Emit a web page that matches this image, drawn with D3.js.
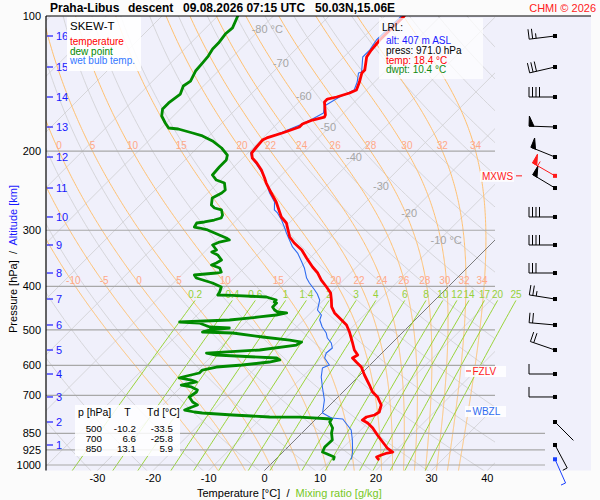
<!DOCTYPE html>
<html>
<head>
<meta charset="utf-8">
<script src="https://cdn.jsdelivr.net/npm/d3@7"></script>
<style>
  body { margin: 0; background: #fbfbfb; }
  svg { font-family: "Liberation Sans", Arial, sans-serif; }
  text { white-space: pre; }
</style>
</head>
<body>
<svg id="chart" width="600" height="500"></svg>
<script>
// ---- sounding data ----
const tempP = [100,113.1,119.1,123.4,131.9,133.9,140.3,146.2,148.4,151.5,153.1,155.4,166.1,167.9,170.5,174.0,176.7,182.2,186.9,188.9,195.8,201.9,207.1,212.5,220.3,229.5,235.5,247.9,259.6,280.3,289.1,310.6,320.3,332.0,345.9,362.3,373.6,387.3,401.4,413.9,429.1,444.7,458.6,470.6,487.7,505.6,532.2,554.5,568.9,577.7,589.7,605.0,630.3,663.5,687.7,705.5,735.1,762.0,773.8,781.8,794.0,806.3,827.2,857.5,888.8,916.6,935.6,940.4,950.1,959.9,971.0];
const tempT = [-56.5,-56.6,-56.3,-55.9,-53.9,-53.9,-52.7,-51.8,-52.5,-54.1,-55.4,-55.4,-52.9,-52.7,-54.3,-55.4,-55.4,-57.4,-59.3,-59.7,-59.5,-59.3,-58.3,-56.6,-54.5,-52.5,-51.3,-48.6,-46.1,-42.5,-40.5,-37.4,-35.5,-32.9,-30.6,-27.9,-25.9,-24.0,-21.8,-20.0,-18.6,-17.3,-15.7,-13.9,-11.4,-9.6,-7.3,-5.5,-4.0,-4.4,-3.0,-1.2,0.8,3.5,5.3,7.1,9.2,10.1,9.8,8.7,8.5,10.0,11.8,13.9,16.1,18.0,19.7,18.9,18.2,17.7,18.4];

const dewP = [100,106.3,109.7,114.9,118.4,122.8,127.3,132.6,139.6,143.2,149.2,153.1,156.2,161.1,167.0,173.1,177.6,178.5,182.2,185.0,189.8,196.8,204.0,209.3,216.9,226.0,231.9,235.5,244.1,247.9,254.3,263.6,267.7,270.4,277.5,281.8,284.7,287.6,289.1,295.1,296.6,299.6,304.3,312.2,315.4,318.7,323.6,332.0,335.4,340.6,349.5,354.9,358.6,364.1,371.7,373.6,377.4,383.3,393.2,401.4,411.8,418.2,419.0,422.5,429.1,433.5,435.7,444.7,451.7,456.3,458.6,463.4,468.1,475.4,480.3,482.8,492.8,495.3,500.4,505.6,508.2,518.7,526.8,532.2,540.5,554.5,563.2,568.9,577.7,583.6,589.7,598.8,605.0,614.4,623.9,636.8,640.0,646.7,653.3,663.5,670.3,680.7,687.7,705.5,723.9,735.1,746.6,754.3,762.0,765.9,773.8,781.8,782.5,789.9,802.1,827.2,848.7,879.7,911.9,935.6,950.1,959.9,971.0];
const dewT = [-86.4,-85.2,-85.4,-85.0,-85.0,-84.5,-84.3,-84.1,-83.2,-83.6,-82.7,-83.0,-83.2,-83.2,-82.1,-80.2,-78.7,-76.8,-73.5,-71.2,-68.5,-65.6,-63.3,-62.6,-62.6,-62.4,-60.8,-58.8,-57.4,-57.5,-58.3,-57.2,-56.1,-54.5,-53.4,-53.1,-54.0,-55.4,-56.6,-56.3,-55.2,-53.4,-51.6,-48.6,-47.7,-49.1,-49.8,-48.2,-48.7,-47.1,-45.5,-45.9,-46.4,-44.4,-43.4,-44.1,-47.7,-46.8,-43.0,-40.7,-40.1,-39.9,-37.3,-30.8,-28.5,-28.5,-27.9,-27.9,-27.0,-26.1,-24.3,-25.8,-28.5,-33.3,-41.9,-38.2,-35.6,-31.9,-35.1,-36.0,-30.4,-24.3,-18.9,-16.4,-16.8,-22.5,-31.5,-29.4,-18.0,-17.1,-18.6,-22.9,-27.2,-29.2,-29.2,-31.5,-31.9,-29.4,-28.1,-30.3,-28.1,-26.5,-26.3,-26.7,-25.2,-23.8,-24.7,-25.2,-23.1,-21.5,-15.7,-8.7,-3.3,2.8,3.0,4.6,5.3,6.7,6.6,7.1,8.9,10.1,10.4];

const wbP = [100,113.1,119.1,123.4,133.3,133.9,140.3,146.2,151.5,158.6,164.4,169.6,174.9,181.3,187.9,195.8,201.9,207.1,212.5,220.3,228.3,247.9,259.6,270.4,274.6,284.7,296.6,304.3,315.4,326.9,337.2,351.3,364.1,383.3,393.2,407.6,416.1,429.1,451.7,463.4,475.4,492.8,508.2,521.4,534.9,548.9,563.2,577.7,589.7,598.8,608.1,636.8,670.3,716.6,765.9,785.8,789.9,814.5,835.8,879.7,935.6,964.9,971.0];
const wbT = [-57.0,-57.2,-56.6,-56.6,-54.1,-54.5,-53.1,-52.2,-53.6,-54.7,-53.6,-54.5,-55.7,-57.5,-59.5,-59.7,-59.5,-58.4,-56.8,-54.7,-52.7,-48.9,-46.4,-45.0,-43.9,-41.9,-39.9,-38.7,-36.9,-35.1,-33.1,-31.0,-29.2,-27.0,-25.6,-23.4,-22.2,-20.7,-19.3,-17.7,-17.1,-15.4,-13.6,-12.5,-10.9,-9.8,-10.0,-9.4,-8.2,-7.3,-8.0,-6.6,-4.6,-1.9,0.1,2.6,4.8,6.7,8.3,10.3,12.5,13.4,13.5];

// altitude ticks (km) and the pressure they sit at; winds at the same levels
const kmLevels = [1,2,3,4,5,6,7,8,9,10,11,12,13,14,15,16];
const kmP = [902.5,802.1,705.5,627.1,554.5,487.7,426.9,373.6,323.6,280.3,241.6,206.1,176.7,151.5,129.9,110.8];
const windDir = [152,135,270,270,289,275,279,270,270,270,301,292,272,270,257,263];
const windSpd = [5,3,10,10,20,20,25,30,40,40,50,50,50,40,30,25];
const maxWindP = 227, maxWindDir = 300, maxWindSpd = 55;
const sfcP = 971.0, sfcDir = 156, sfcSpd = 5;

// special levels
const levelNames = ['MXWS','FZLV','WBZL'];
const levelP = [227, 617.5, 758.2];

// table
const tableP = [500,700,850];
const tableT = [-10.2,6.6,13.1];
const tableTd = [-33.5,-25.8,5.9];

// LRL box
const lrlLines = ['alt: 407 m ASL','press: 971.0 hPa','temp: 18.4 °C','dwpt: 10.4 °C'];

// axes / background lines
const pressTicks = [100,200,300,400,500,600,700,850,925,1000];
const tempTicks = [-30,-20,-10,0,10,20,30,40];
const isoLabelT = [-80,-70,-60,-50,-40,-30,-20,-10];
const thetaW = [-10,-5,0,5,10,15,20,22,24,26,28,30,32,34];
const thetaWTop = [0,5,10,15,20,22,24,26,28,30,32,34];
const mixW = [0.2,0.4,0.6,1,1.4,2,3,4,6,8,10,12,14,17,20,25];

// ---- layout ----
const plot = {left: 46, right: 495, top: 16, bottom: 470.5, panelRight: 591};
const y = d3.scaleLog().domain([100, 1000]).range([16, 465]);
const x = d3.scaleLinear().domain([-30, 40]).range([97.4, 487.3]);
const sx = (T, p) => x(T) + (plot.bottom - y(p));
const pBot = y.invert(plot.bottom) + 5;

const svg = d3.select('#chart');

// ---- thermodynamics for reference lines ----
const Rd = 287.04, Cp = 1005.7, Lv = 2.501e6, eps = 0.622;
const esat = (T) => 6.112 * Math.exp(17.67 * T / (T + 243.5));
const dewFromE = (e) => { const l = Math.log(e / 6.112); return 243.5 * l / (17.67 - l); };
const dTdp = (T, p) => {
  const Tk = T + 273.15, e = esat(T), rs = eps * e / (p - e);
  return (Rd * Tk + Lv * rs) / (p * (Cp + Lv * Lv * rs * eps / (Rd * Tk * Tk)));
};
const rk = (T, p, h) => {
  const k1 = dTdp(T, p), k2 = dTdp(T + h / 2 * k1, p + h / 2);
  const k3 = dTdp(T + h / 2 * k2, p + h / 2), k4 = dTdp(T + h * k3, p + h);
  return T + h / 6 * (k1 + 2 * k2 + 2 * k3 + k4);
};
const moistAdiabat = (tw) => {
  const up = [[1000, tw]];
  let T = tw, p = 1000;
  while (p > 100) { T = rk(T, p, -2); p -= 2; up.push([p, T]); }
  const down = [];
  T = tw; p = 1000;
  while (p < pBot) { T = rk(T, p, 2); p += 2; down.push([p, T]); }
  return down.reverse().concat(up);
};

const pGrid = d3.range(0, 121).map((i) => 100 * Math.pow(pBot / 100, i / 120));
const line = d3.line().x((d) => sx(d[1], d[0])).y((d) => y(d[0]));

// ---- background ----
svg.append('rect').attr('x', plot.left).attr('y', plot.top)
  .attr('width', plot.panelRight - plot.left).attr('height', plot.bottom - plot.top)
  .attr('fill', '#f0f0fb');

const defs = svg.append('defs');
defs.append('clipPath').attr('id', 'clipPlot').append('rect')
  .attr('x', plot.left).attr('y', plot.top).attr('width', plot.right - plot.left).attr('height', plot.bottom - plot.top);
defs.append('clipPath').attr('id', 'clipMix').append('rect')
  .attr('x', plot.left).attr('y', plot.top).attr('width', 480).attr('height', plot.bottom - plot.top);

const grid = svg.append('g').attr('clip-path', 'url(#clipPlot)');

// isotherms
grid.selectAll('.iso').data(d3.range(-130, 50, 10)).enter().append('path')
  .attr('d', (t) => line([[pBot, t], [100, t]]))
  .attr('fill', 'none').attr('stroke', '#d2d2d6').attr('stroke-width', 0.9);

// dry adiabats
grid.selectAll('.dry').data(d3.range(230, 480, 10)).enter().append('path')
  .attr('d', (th) => line(pGrid.map((p) => [p, th * Math.pow(p / 1000, 0.2857) - 273.15])))
  .attr('fill', 'none').attr('stroke', '#d2d2d6').attr('stroke-width', 0.9);

// pseudo adiabats
const moistCurves = thetaW.map((tw) => ({tw, pts: moistAdiabat(tw)}));
grid.selectAll('.moist').data(moistCurves).enter().append('path')
  .attr('d', (c) => line(c.pts))
  .attr('fill', 'none').attr('stroke', '#ffc070').attr('stroke-width', 1);

// mixing ratio lines
const mixTop = 430;
const mixPts = (w) => d3.range(mixTop, pBot, 10).concat([pBot]).map((p) => [p, dewFromE(w * p / (622 + w))]);
svg.append('g').attr('clip-path', 'url(#clipMix)')
  .selectAll('path').data(mixW).enter().append('path')
  .attr('d', (w) => line(mixPts(w)))
  .attr('fill', 'none').attr('stroke', '#8fd024').attr('stroke-width', 0.9);

// isobars
svg.append('g').selectAll('line').data(pressTicks.slice(1)).enter().append('line')
  .attr('x1', plot.left).attr('x2', (p) => (p >= 850 ? 545 : plot.right))
  .attr('y1', (p) => y(p)).attr('y2', (p) => y(p))
  .attr('stroke', '#a8a8a8').attr('stroke-width', 1.2);

// 0 °C isotherm
grid.append('path').attr('d', line([[pBot, 0], [100, 0]]))
  .attr('fill', 'none').attr('stroke', '#666').attr('stroke-width', 0.8);

// ---- reference line labels ----
const moistAt = (c, p) => { const d = c.pts.reduce((a, b) => (Math.abs(b[0] - p) < Math.abs(a[0] - p) ? b : a)); return sx(d[1], d[0]); };
const mLabels = svg.append('g').attr('font-size', 10).attr('fill', '#ffa888').attr('text-anchor', 'middle');
moistCurves.filter((c) => thetaWTop.includes(c.tw)).forEach((c) => {
  mLabels.append('text').attr('x', moistAt(c, 200)).attr('y', y(200) - 2).text(c.tw);
});
moistCurves.forEach((c) => {
  mLabels.append('text').attr('x', moistAt(c, 400) - 2).attr('y', y(400) - 2.5).text(c.tw);
});

svg.append('g').attr('font-size', 10).attr('fill', '#96d03a').attr('text-anchor', 'middle')
  .selectAll('text').data(mixW).enter().append('text')
  .attr('x', (w) => sx(dewFromE(w * mixTop / (622 + w)), mixTop))
  .attr('y', y(mixTop) - 2)
  .text((w) => w);

// isotherm labels sit on the 366 K dry adiabat
const isoP = (t) => 1000 * Math.pow((t + 273.15) / 366, 1 / 0.2857);
svg.append('g').attr('font-size', 11).attr('fill', '#a6a6a6')
  .selectAll('text').data(isoLabelT).enter().append('text')
  .attr('x', (t) => sx(t, isoP(t)) - 9).attr('y', (t) => y(isoP(t)) + 4)
  .text((t, i) => (i === 0 || i === isoLabelT.length - 1 ? `${t} °C` : `${t}`));

// ---- profiles ----
const zip = (P, T) => P.map((p, i) => [p, T[i]]);
const prof = svg.append('g').attr('clip-path', 'url(#clipPlot)').attr('fill', 'none')
  .attr('stroke-linejoin', 'round').attr('stroke-linecap', 'round');
prof.append('path').attr('d', line(zip(dewP, dewT))).attr('stroke', '#008a00').attr('stroke-width', 2.8);
prof.append('path').attr('d', line(zip(wbP, wbT))).attr('stroke', '#2f6cf0').attr('stroke-width', 1.1);
prof.append('path').attr('d', line(zip(tempP, tempT))).attr('stroke', '#ff0000').attr('stroke-width', 2.8);

// ---- frame and axes ----
svg.append('line').attr('x1', plot.left).attr('x2', plot.panelRight).attr('y1', plot.top).attr('y2', plot.top)
  .attr('stroke', '#000').attr('stroke-width', 1.2);
svg.append('line').attr('x1', plot.left).attr('x2', plot.left).attr('y1', plot.top).attr('y2', plot.bottom)
  .attr('stroke', '#000').attr('stroke-width', 1.2);

svg.append('g').attr('font-size', 11).attr('text-anchor', 'end')
  .selectAll('text').data(pressTicks).enter().append('text')
  .attr('x', 41).attr('y', (p) => y(p) + 4).text((p) => p);

const km = svg.append('g').attr('fill', '#1a1aff').attr('font-size', 11);
km.selectAll('line').data(kmP).enter().append('line')
  .attr('x1', 47).attr('x2', 53).attr('y1', (p) => y(p)).attr('y2', (p) => y(p))
  .attr('stroke', '#1a1aff').attr('stroke-width', 1.2);
km.selectAll('text').data(kmLevels).enter().append('text')
  .attr('x', 56).attr('y', (k, i) => y(kmP[i]) + 4).text((k) => k);

svg.append('g').attr('font-size', 11).attr('text-anchor', 'middle')
  .selectAll('text').data(tempTicks).enter().append('text')
  .attr('x', (t) => x(t)).attr('y', 482).text((t) => t);

const xt = svg.append('text').attr('x', 197).attr('y', 497).attr('font-size', 11);
xt.append('tspan').text('Temperature [°C]  /  ');
xt.append('tspan').attr('fill', '#77c81e').text('Mixing ratio [g/kg]');

const yt = svg.append('text').attr('transform', 'translate(17,259) rotate(-90)')
  .attr('text-anchor', 'middle').attr('font-size', 11);
yt.append('tspan').text('Pressure [hPa]  /  ');
yt.append('tspan').attr('fill', '#1a1aff').text('Altitude [km]');

// ---- title ----
const title = svg.append('text').attr('y', 12).attr('font-size', 12).attr('font-weight', 'bold');
title.append('tspan').attr('x', 50).text('Praha-Libus');
title.append('tspan').attr('x', 128).text('descent');
title.append('tspan').attr('x', 183).text('09.08.2026 07:15 UTC');
title.append('tspan').attr('x', 315).text('50.03N,15.06E');
svg.append('text').attr('x', 596).attr('y', 12).attr('text-anchor', 'end')
  .attr('font-size', 11).attr('fill', '#ff2020').text('CHMI © 2026');

// ---- legend ----
svg.append('rect').attr('x', 67).attr('y', 17).attr('width', 74).attr('height', 54).attr('fill', '#fff').attr('opacity', 0.9);
svg.append('text').attr('x', 70).attr('y', 30).attr('font-size', 11.5).text('SKEW-T');
[['temperature', '#ff0000'], ['dew point', '#008a00'], ['wet bulb temp.', '#3377ff']].forEach((d, i) => {
  svg.append('text').attr('x', 70).attr('y', 45 + i * 9.7).attr('font-size', 10).attr('fill', d[1]).text(d[0]);
});

// ---- LRL box ----
svg.append('rect').attr('x', 379).attr('y', 18).attr('width', 104).attr('height', 61).attr('fill', '#fff').attr('opacity', 0.72);
svg.append('text').attr('x', 382).attr('y', 31).attr('font-size', 10).text('LRL:');
const lrlColors = ['#1a1aff', '#000', '#ff0000', '#108a10'];
lrlLines.forEach((s, i) => {
  svg.append('text').attr('x', 386).attr('y', 44 + i * 9.8).attr('font-size', 10).attr('fill', lrlColors[i]).text(s);
});

// ---- table ----
svg.append('rect').attr('x', 75).attr('y', 405).attr('width', 105).attr('height', 51).attr('fill', '#fff').attr('opacity', 0.85);
const tb = svg.append('g').attr('font-size', 10.5);
tb.append('text').attr('x', 78).attr('y', 416).text('p [hPa]');
tb.append('text').attr('x', 127.5).attr('y', 416).attr('text-anchor', 'middle').text('T');
tb.append('text').attr('x', 147).attr('y', 416).text('Td [°C]');
tableP.forEach((p, i) => {
  const yy = 431.5 + i * 10;
  const row = tb.append('g').attr('font-size', 9.8);
  row.append('text').attr('x', 102).attr('y', yy).attr('text-anchor', 'end').text(p);
  row.append('text').attr('x', 136).attr('y', yy).attr('text-anchor', 'end').text(tableT[i].toFixed(1));
  row.append('text').attr('x', 173).attr('y', yy).attr('text-anchor', 'end').text(tableTd[i].toFixed(1));
});

// ---- special level markers ----
const lvlColors = ['#ff1a1a', '#ff1a1a', '#2f6cf0'];
levelNames.forEach((name, i) => {
  const yy = y(levelP[i]);
  const g = svg.append('g');
  if (name === 'MXWS') {
    g.append('rect').attr('x', 480).attr('y', yy - 5).attr('width', 34).attr('height', 11).attr('fill', '#fff').attr('opacity', 0.8);
    g.append('text').attr('x', 482).attr('y', yy + 4).attr('font-size', 10).attr('fill', lvlColors[i]).text(name);
    g.append('line').attr('x1', 516).attr('x2', 522).attr('y1', yy).attr('y2', yy).attr('stroke', lvlColors[i]);
  } else {
    g.append('rect').attr('x', 465).attr('y', yy - 5).attr('width', 41).attr('height', 11).attr('fill', '#fff').attr('opacity', 0.85);
    g.append('line').attr('x1', 466).attr('x2', 471).attr('y1', yy).attr('y2', yy).attr('stroke', lvlColors[i]);
    g.append('text').attr('x', 472.5).attr('y', yy + 4).attr('font-size', 10).attr('fill', lvlColors[i]).text(name);
  }
});

// ---- wind barbs ----
const barbX = 555, staffLen = 26, featherLen = 10;
const drawBarb = (p, dir, spd, color) => {
  const cy = y(p), a = dir * Math.PI / 180;
  const ux = Math.sin(a), uy = -Math.cos(a);
  const fx = -uy, fy = ux;
  const ex = barbX + ux * staffLen, ey = cy + uy * staffLen;
  const g = svg.append('g').attr('stroke', color).attr('fill', color).attr('stroke-width', 1);
  g.append('line').attr('x1', barbX).attr('y1', cy).attr('x2', ex).attr('y2', ey);
  g.append('rect').attr('x', barbX - 2).attr('y', cy - 2).attr('width', 4).attr('height', 4).attr('stroke', 'none');
  const at = (d) => [ex - ux * d, ey - uy * d];
  let s = Math.floor(spd / 5) * 5, pos = 0;
  while (s >= 50) {
    const b0 = at(pos), b1 = at(pos + 5);
    g.append('path').attr('d', `M${b0[0]},${b0[1]}L${b0[0] + fx * featherLen},${b0[1] + fy * featherLen}L${b1[0]},${b1[1]}Z`);
    pos += 6; s -= 50;
  }
  while (s >= 10) {
    const b = at(pos);
    g.append('line').attr('x1', b[0]).attr('y1', b[1]).attr('x2', b[0] + fx * featherLen).attr('y2', b[1] + fy * featherLen);
    pos += 3.5; s -= 10;
  }
  if (s >= 5) {
    const b = at(pos);
    g.append('line').attr('x1', b[0]).attr('y1', b[1]).attr('x2', b[0] + fx * featherLen / 2).attr('y2', b[1] + fy * featherLen / 2);
  }
};
kmP.forEach((p, i) => drawBarb(p, windDir[i], windSpd[i], '#000'));
drawBarb(maxWindP, maxWindDir, maxWindSpd, '#ff1a1a');
drawBarb(sfcP, sfcDir, sfcSpd, '#1a40ff');
</script>
</body>
</html>
